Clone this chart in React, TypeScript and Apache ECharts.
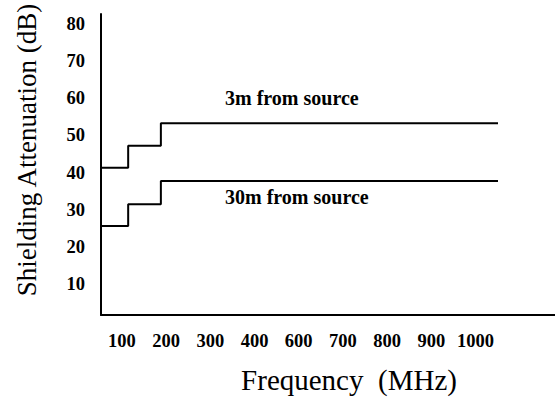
import React, { useEffect, useRef } from "react";
import * as echarts from "echarts";

// x axis: tick labels sit in evenly spaced slots (the original skips 500)
const xTickLabels = ["100", "200", "300", "400", "600", "700", "800", "900", "1000"];
const xTickSlots = [1, 2, 3, 4, 5, 6, 7, 8, 9];
// y axis ticks (dB)
const yTicks = [10, 20, 30, 40, 50, 60, 70, 80];

// step break points along x, in slot units
const stepX = [0.525, 1.14, 1.88, 9.51];
// shielding attenuation levels (dB)
const near3m = [41.3, 47.2, 53.3];
const far30m = [25.6, 31.5, 37.7];

const FONT = "Liberation Serif";

function stepLine(levels: number[]): number[][] {
  const pts: number[][] = [];
  for (let i = 0; i < levels.length; i++) {
    pts.push([stepX[i], levels[i]]);
    pts.push([stepX[i + 1], levels[i]]);
  }
  return pts;
}

export default function App() {
  const ref = useRef<HTMLDivElement>(null);
  useEffect(() => {
    if (!ref.current) return;
    const chart = echarts.init(ref.current, null, { renderer: "svg" });
    chart.setOption({
      animation: false,
      backgroundColor: "#ffffff",
      textStyle: { fontFamily: FONT },
      grid: { left: 101, top: 14, right: 0, bottom: 82, containLabel: false },
      xAxis: {
        type: "value",
        min: 0.525,
        max: 10.8,
        axisLine: { show: true, onZero: false, lineStyle: { color: "#000", width: 2 } },
        axisTick: { show: false, customValues: xTickSlots },
        splitLine: { show: false },
        axisLabel: {
          customValues: xTickSlots,
          formatter: (v: number) => xTickLabels[Math.round(v) - 1] ?? "",
          color: "#000",
          fontFamily: FONT,
          fontWeight: "bold",
          fontSize: 18.5,
          margin: 16,
        },
      },
      yAxis: {
        type: "value",
        min: 1.65,
        max: 82.7,
        axisLine: { show: true, onZero: false, lineStyle: { color: "#000", width: 2 } },
        axisTick: { show: false, customValues: yTicks },
        splitLine: { show: false },
        axisLabel: {
          customValues: yTicks,
          color: "#000",
          fontFamily: FONT,
          fontWeight: "bold",
          fontSize: 18.5,
          margin: 16,
        },
      },
      series: [
        {
          type: "line",
          name: "3m from source",
          data: stepLine(near3m),
          showSymbol: false,
          lineStyle: { color: "#000", width: 2 },
        },
        {
          type: "line",
          name: "30m from source",
          data: stepLine(far30m),
          showSymbol: false,
          lineStyle: { color: "#000", width: 2 },
        },
      ],
      graphic: [
        {
          type: "text",
          left: 225,
          top: 88,
          style: { text: "3m from source", fontFamily: FONT, fontSize: 20, fontWeight: "bold", fill: "#000" },
        },
        {
          type: "text",
          left: 225,
          top: 187,
          style: { text: "30m from source", fontFamily: FONT, fontSize: 20, fontWeight: "bold", fill: "#000" },
        },
        {
          type: "text",
          x: 27,
          y: 150,
          rotation: Math.PI / 2,
          style: {
            text: "Shielding Attenuation (dB)",
            fontFamily: FONT,
            fontSize: 27,
            fill: "#000",
            align: "center",
            verticalAlign: "middle",
          },
        },
        {
          type: "text",
          x: 349,
          y: 380,
          style: {
            text: "Frequency  (MHz)",
            fontFamily: FONT,
            fontSize: 29,
            fill: "#000",
            align: "center",
            verticalAlign: "middle",
          },
        },
      ],
    });
    return () => chart.dispose();
  }, []);
  return (
    <div
      ref={ref}
      style={{ position: "absolute", left: 0, top: 0, width: 555, height: 397, background: "#fff" }}
    />
  );
}
